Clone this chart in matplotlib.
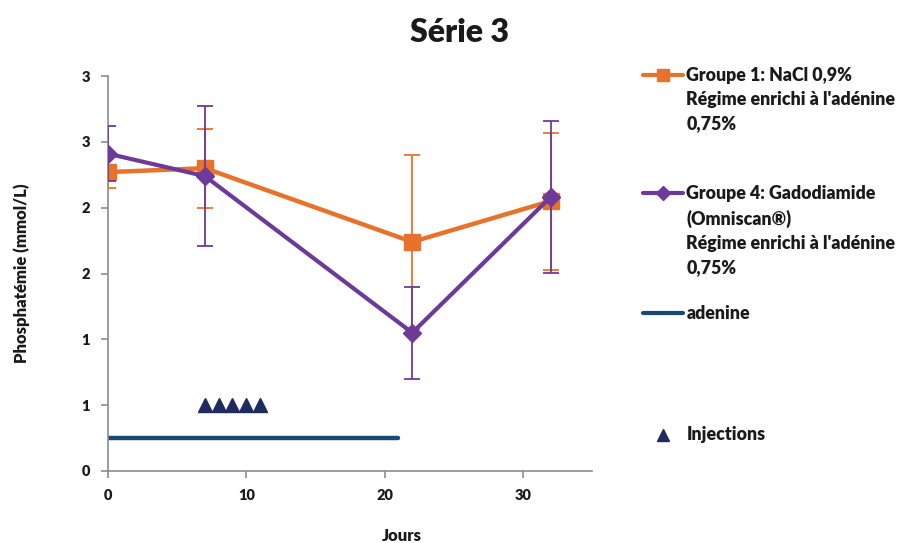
import matplotlib
matplotlib.use('Agg')
import matplotlib.pyplot as plt
from matplotlib.lines import Line2D

plt.rcParams['font.family'] = ['Lato', 'DejaVu Sans']
plt.rcParams['font.weight'] = 'heavy'

### Données ###
jours = [0, 7, 22, 32]

# Groupe 1: NaCl 0,9%
g1_moy = [2.27, 2.30, 1.74, 2.05]
g1_err = [0.12, 0.30, 0.66, 0.52]

# Groupe 4: Gadodiamide
g4_moy = [2.41, 2.24, 1.05, 2.08]
g4_err = [0.21, 0.53, 0.35, 0.575]

# Régime adénine (jours 0 à 21)
adenine_x = [0, 21]
adenine_y = [0.25, 0.25]

# Injections
inj_x = [7, 8, 9, 10, 11]
inj_y = [0.5, 0.5, 0.5, 0.5, 0.5]

yticks = [0, 0.5, 1, 1.5, 2, 2.5, 3]
ytick_labels = ['0', '1', '1', '2', '2', '3', '3']
xticks = [0, 10, 20, 30]

orange = '#E9722A'
violet = '#6E3A9A'
bleu = '#16497B'
marine = '#1E2B5E'
gris = '#8C8C8C'
noir = '#1A1A1A'
poids = 'heavy'

### Graphique ###
fig = plt.figure(figsize=(9.08, 5.43), dpi=100)
ax = fig.add_axes([0.119, 0.1326, 0.533, 0.7274])

ax.errorbar(jours, g1_moy, yerr=g1_err, color=orange, linewidth=3.2,
            marker='s', markersize=11, elinewidth=1.3, capsize=6, capthick=1.3,
            zorder=3)
ax.errorbar(jours, g4_moy, yerr=g4_err, color=violet, linewidth=3.0,
            marker='D', markersize=9, elinewidth=1.3, capsize=6, capthick=1.3,
            zorder=4)
ax.plot(adenine_x, adenine_y, color=bleu, linewidth=3.2, solid_capstyle='round', zorder=2)
ax.plot(inj_x, inj_y, linestyle='none', marker='^', color=marine, markersize=10, zorder=2)

ax.set_xlim(0, 35)
ax.set_ylim(0, 3)
ax.set_xticks(xticks)
ax.set_yticks(yticks)
ax.set_yticklabels(ytick_labels)
ax.tick_params(axis='both', colors=gris, labelcolor=noir, labelsize=10.5,
               length=5, width=1.2, direction='out', pad=8)
for lab in ax.get_xticklabels() + ax.get_yticklabels():
    lab.set_fontweight(poids)
for s in ['top', 'right']:
    ax.spines[s].set_visible(False)
for s in ['left', 'bottom']:
    ax.spines[s].set_color(gris)
    ax.spines[s].set_linewidth(1.2)

ax.set_xlabel('Jours', fontsize=12, fontweight=poids, labelpad=19, color=noir)
ax.xaxis.label.set_x(0.607)  # titre d'axe décalé comme dans Excel
ax.set_ylabel('Phosphatémie (mmol/L)', fontsize=12, fontweight=poids, labelpad=37,
              color=noir)
fig.text(0.506, 0.94, 'Série 3', fontsize=23, fontweight=poids, ha='center', va='center',
         color=noir)

### Légende (faite à la main) ###
fig.add_artist(Line2D([0.708, 0.752], [1 - 75 / 543] * 2, color=orange, linewidth=3.0,
                      solid_capstyle='round'))
fig.add_artist(Line2D([0.730], [1 - 75 / 543], color=orange, marker='s',
                      markersize=9, linestyle='none'))
fig.text(0.756, 1 - 67 / 543, "Groupe 1: NaCl 0,9%\nRégime enrichi à l'adénine\n0,75%",
         fontsize=12.8, fontweight=poids, va='top', linespacing=1.5, color=noir)

fig.add_artist(Line2D([0.708, 0.752], [1 - 193 / 543] * 2, color=violet, linewidth=3.0,
                      solid_capstyle='round'))
fig.add_artist(Line2D([0.730], [1 - 193 / 543], color=violet, marker='D',
                      markersize=7, linestyle='none'))
fig.text(0.756, 1 - 185 / 543,
         "Groupe 4: Gadodiamide\n(Omniscan®)\nRégime enrichi à l'adénine\n0,75%",
         fontsize=12.8, fontweight=poids, va='top', linespacing=1.5, color=noir)

fig.add_artist(Line2D([0.708, 0.752], [1 - 313 / 543] * 2, color=bleu, linewidth=3.0,
                      solid_capstyle='round'))
fig.text(0.756, 1 - 305 / 543, "adenine", fontsize=12.8, fontweight=poids,
         va='top', color=noir)

fig.add_artist(Line2D([0.730], [1 - 435 / 543], color=marine, marker='^',
                      markersize=8, linestyle='none'))
fig.text(0.756, 1 - 426 / 543, 'Injections', fontsize=12.8, fontweight=poids,
         va='top', color=noir)

plt.savefig('out.png', dpi=100)
